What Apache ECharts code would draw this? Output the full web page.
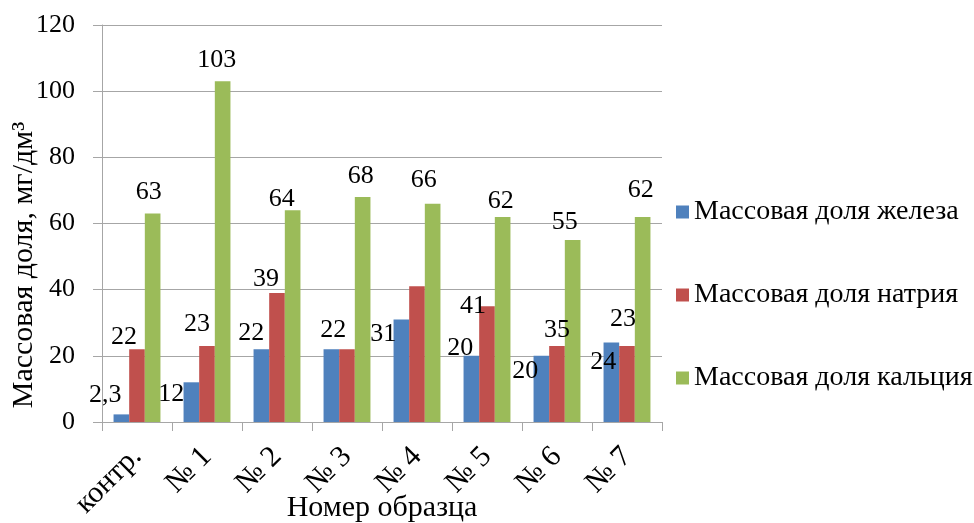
<!DOCTYPE html>
<html>
<head>
<meta charset="utf-8">
<script src="https://cdn.jsdelivr.net/npm/echarts@6/dist/echarts.min.js"></script>
</head>
<body style="margin:0;background:#fff">
<div id="chart" style="width:974px;height:523px"></div>
<script>
// Образцы и измеренные массовые доли, мг/дм³
const categories = ['контр.', '№ 1', '№ 2', '№ 3', '№ 4', '№ 5', '№ 6', '№ 7'];
const seriesNames = ['Массовая доля железа', 'Массовая доля натрия', 'Массовая доля кальция'];
const iron    = [2.3, 12, 22, 22, 31, 20, 20, 24];
const sodium  = [22, 23, 39, 22, 41, 35, 23, 23];
const calcium = [63, 103, 64, 68, 66, 62, 55, 62];
const yTicks  = { min: 0, max: 120, step: 20 };

// Сдвиги подписей значений относительно вершины столбца (null — подпись скрыта)
const ironLabelShift    = [[-16, -6], [-20, 25], [-10, -3], [2, -6], [-18, 28], [-11, 5], [-16, 28], [-8, 33]];
const sodiumLabelShift  = [[-13, 1], [-10, -9], [-11, -1], null, [56, 33], [70, 37], null, [-4, -14]];
const calciumLabelShift = [[-4, -8], [-6, -8], [-11, 2], [-2, -8], [-9, -10], [-2, -3], [-8, -5], [-2, -14]];

const serifFamily = 'Liberation Serif';
const sizeNum = 26;     // числа: деления оси и подписи значений
const sizeText = 30;    // названия осей и категории
const sizeLegend = 28;  // легенда
const gridColor = '#a6a6a6';

function buildData(values, shifts) {
  return values.map((v, i) => {
    const s = shifts[i];
    return s ? { value: v, label: { offset: s } } : { value: v, label: { show: false } };
  });
}

function barSeries(name, color, values, shifts) {
  return {
    name: name,
    type: 'bar',
    barGap: '0%',
    barCategoryGap: '33%',
    itemStyle: { color: color },
    label: {
      show: true,
      position: 'top',
      distance: 0,
      color: '#000',
      fontFamily: serifFamily,
      fontSize: sizeNum,
      formatter: p => String(p.value).replace('.', ',')
    },
    data: buildData(values, shifts)
  };
}

function buildOption() {
  return {
    animation: false,
    grid: { left: 102, top: 25, width: 560, height: 397, containLabel: false, outerBoundsMode: 'none' },
    legend: {
      orient: 'vertical',
      left: 671,
      top: 193,
      itemWidth: 13,
      itemHeight: 13,
      itemGap: 55,
      icon: 'rect',
      textStyle: { fontFamily: serifFamily, fontSize: sizeLegend, color: '#000' },
      data: seriesNames
    },
    xAxis: {
      type: 'category',
      data: categories,
      boundaryGap: true,
      name: 'Номер образца',
      nameLocation: 'middle',
      nameGap: 71,
      nameMoveOverlap: false,
      nameTextStyle: { fontFamily: serifFamily, fontSize: sizeText, color: '#000' },
      axisLine: { lineStyle: { color: gridColor, width: 1 } },
      axisTick: { show: true, length: 9, lineStyle: { color: gridColor } },
      axisLabel: {
        rotate: 45,
        margin: 30,
        interval: 0,
        fontFamily: serifFamily,
        fontSize: sizeText,
        color: '#000'
      }
    },
    yAxis: {
      type: 'value',
      min: yTicks.min,
      max: yTicks.max,
      interval: yTicks.step,
      axisLine: { show: true, lineStyle: { color: gridColor, width: 1 } },
      axisTick: { show: true, length: 9, lineStyle: { color: gridColor } },
      splitLine: { show: true, lineStyle: { color: gridColor, width: 1 } },
      axisLabel: { margin: 27, fontFamily: serifFamily, fontSize: sizeNum, color: '#000' }
    },
    graphic: [{
      type: 'text',
      x: 24,
      y: 265,
      rotation: Math.PI / 2,
      style: {
        text: 'Массовая доля, мг/дм³',
        fontFamily: serifFamily,
        fontSize: sizeText,
        fill: '#000',
        align: 'center',
        verticalAlign: 'middle'
      }
    }],
    series: [
      barSeries(seriesNames[0], '#4F81BD', iron, ironLabelShift),
      barSeries(seriesNames[1], '#C0504D', sodium, sodiumLabelShift),
      barSeries(seriesNames[2], '#9BBB59', calcium, calciumLabelShift)
    ]
  };
}

const chart = echarts.init(document.getElementById('chart'));
const draw = () => chart.setOption(buildOption(), true);
draw();
requestAnimationFrame(draw);
[100, 400].forEach(t => setTimeout(draw, t));
</script>
<div style="position:absolute;left:-2000px;top:0;font:26px 'Liberation Serif'">Массовая доля 0123456789</div>
</body>
</html>
